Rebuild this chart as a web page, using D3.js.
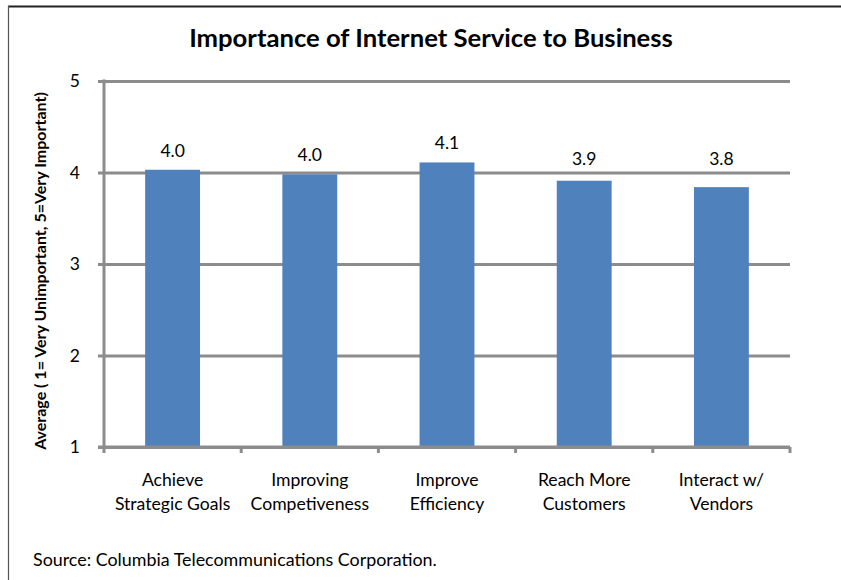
<!DOCTYPE html>
<html>
<head>
<meta charset="utf-8">
<script src="https://cdn.jsdelivr.net/npm/d3@7"></script>
<style>
  html, body { margin: 0; padding: 0; background: #fff; }
  svg { display: block; }
  text { font-family: Lato, "Open Sans", sans-serif; fill: #000; }
</style>
</head>
<body>
<svg id="chart" width="841" height="580"></svg>
<script>
// Survey results: average importance rating per business goal
const categories = [
  ["Achieve", "Strategic Goals"],
  ["Improving", "Competiveness"],
  ["Improve", "Efficiency"],
  ["Reach More", "Customers"],
  ["Interact w/", "Vendors"]
];
const values = [4.03, 3.98, 4.11, 3.91, 3.84];
const yTicks = [1, 2, 3, 4, 5];

const titleText = "Importance of Internet Service to Business";
const yTitle = "Average ( 1= Very Unimportant, 5=Very Important)";
const sourceText = "Source: Columbia Telecommunications Corporation.";

const svg = d3.select("#chart");
const W = 841, H = 580;
const plot = { left: 104, right: 790, top: 81, bottom: 447 };
const gridColor = "#8c8c8c";
const barColor = "#4f81bd";

// scale a text element's font size so that it spans the given width
function fitWidth(sel, width) {
  const fs = +sel.attr("font-size");
  const w = sel.node().getComputedTextLength();
  sel.attr("font-size", fs * width / w);
}

// frame lines
svg.append("line").attr("x1", 8).attr("x2", W).attr("y1", 6.5).attr("y2", 6.5)
  .attr("stroke", "#222").attr("stroke-width", 2);
svg.append("line").attr("x1", 8.5).attr("x2", 8.5).attr("y1", 6).attr("y2", H)
  .attr("stroke", "#555").attr("stroke-width", 1.2);

const x = d3.scaleBand()
  .domain(d3.range(categories.length))
  .range([plot.left, plot.right])
  .paddingInner(0.6)
  .paddingOuter(0.3);
const step = x.step();

const y = d3.scaleLinear().domain([1, 5]).range([plot.bottom, plot.top]);

// horizontal gridlines with outward ticks
const yAxis = d3.axisLeft(y).tickValues(yTicks).tickFormat(d3.format("d"))
  .tickSize(-(plot.right - plot.left)).tickPadding(24);
const gy = svg.append("g").attr("transform", `translate(${plot.left},0)`).call(yAxis);
gy.select(".domain").remove();
gy.selectAll(".tick line")
  .attr("x1", -6)
  .attr("stroke", gridColor).attr("stroke-width", 3);
gy.selectAll(".tick text")
  .attr("font-size", 17.5).attr("font-family", "Lato, sans-serif").attr("fill", "#000")
  .attr("dx", 0).attr("dy", "0.34em");

// vertical axis line
svg.append("line").attr("x1", plot.left).attr("x2", plot.left)
  .attr("y1", plot.top - 1.5).attr("y2", plot.bottom + 1.5)
  .attr("stroke", gridColor).attr("stroke-width", 3);

// bars
svg.append("g").selectAll("rect").data(values).join("rect")
  .attr("x", (d, i) => x(i))
  .attr("width", x.bandwidth())
  .attr("y", d => y(d))
  .attr("height", d => y(1) - y(d))
  .attr("fill", barColor);

// bottom axis line drawn over bar bases
svg.append("line").attr("x1", plot.left - 6).attr("x2", plot.right)
  .attr("y1", plot.bottom).attr("y2", plot.bottom)
  .attr("stroke", gridColor).attr("stroke-width", 3);
// category separators on the x axis
const sepX = d3.range(categories.length + 1).map(i => plot.left + i * step);
svg.append("g").selectAll("line").data(sepX).join("line")
  .attr("x1", d => d).attr("x2", d => d)
  .attr("y1", plot.bottom).attr("y2", plot.bottom + 6)
  .attr("stroke", gridColor).attr("stroke-width", 3);

// value labels, kept clear of the gridline at 4
svg.append("g").selectAll("text").data(values).join("text")
  .attr("x", (d, i) => x(i) + x.bandwidth() / 2)
  .attr("y", d => Math.min(y(d) - 13, y(4) - 8))
  .attr("text-anchor", "middle")
  .attr("font-size", 17.5)
  .text(d => d.toFixed(1));

// category labels (two lines each)
const cat = svg.append("g").selectAll("text").data(categories).join("text")
  .attr("text-anchor", "middle")
  .attr("font-size", 17.6);
cat.selectAll("tspan").data((d, i) => d.map(s => ({ s, i }))).join("tspan")
  .attr("x", d => x(d.i) + x.bandwidth() / 2)
  .attr("y", (d, j) => 486 + j * 24)
  .text(d => d.s);

// y axis title
const yt = svg.append("text")
  .attr("transform", `translate(46,${(plot.top + plot.bottom) / 2 + 7}) rotate(-90)`)
  .attr("text-anchor", "middle")
  .attr("font-size", 15)
  .attr("font-weight", "bold")
  .text(yTitle);
fitWidth(yt, 358);

// chart title
const title = svg.append("text")
  .attr("x", 431).attr("y", 47)
  .attr("text-anchor", "middle")
  .attr("font-size", 24)
  .attr("font-weight", "bold")
  .text(titleText);
fitWidth(title, 484);

// source note
const src = svg.append("text")
  .attr("x", 33).attr("y", 566)
  .attr("font-size", 17)
  .text(sourceText);
fitWidth(src, 404);
</script>
</body>
</html>
